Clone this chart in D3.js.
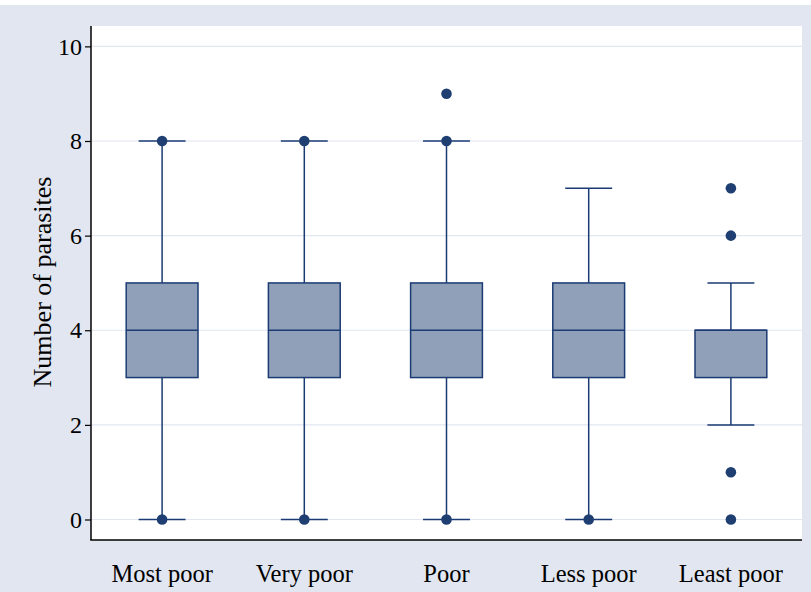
<!DOCTYPE html>
<html>
<head>
<meta charset="utf-8">
<script src="https://cdn.jsdelivr.net/npm/d3@7"></script>
<style>
  body { margin: 0; background: #fff; }
  text { font-family: "Liberation Serif", "Times New Roman", serif; }
</style>
</head>
<body>
<svg id="chart" width="811" height="592"></svg>
<script>
// Box plot data
const categories = ["Most poor", "Very poor", "Poor", "Less poor", "Least poor"];
const q1 = [3, 3, 3, 3, 3];
const medians = [4, 4, 4, 4, 4];
const q3 = [5, 5, 5, 5, 4];
const whiskerLow = [0, 0, 0, 0, 2];
const whiskerHigh = [8, 8, 8, 7, 5];
const outliers = [[0, 8], [0, 8], [0, 8, 9], [0], [0, 1, 6, 7]];
const yTicks = [0, 2, 4, 6, 8, 10];

const svg = d3.select("#chart");
const W = 811, H = 592;
const plot = {left: 91, right: 802, top: 26, bottom: 540};

//Outer background
svg.append("rect").attr("x", 0).attr("y", 5).attr("width", W).attr("height", H - 5)
    .attr("fill", "#e1e6f0");
//Plot region
svg.append("rect").attr("x", plot.left).attr("y", plot.top)
    .attr("width", plot.right - plot.left).attr("height", plot.bottom - plot.top)
    .attr("fill", "#fff");

const x = d3.scaleBand().domain(categories).range([plot.left, plot.right]).padding(0);
const y = d3.scaleLinear().domain([0, 8]).range([519.5, 141]);

//Grid lines
svg.append("g").selectAll("line").data(yTicks).join("line")
    .attr("x1", plot.left).attr("x2", plot.right)
    .attr("y1", d => y(d)).attr("y2", d => y(d))
    .attr("stroke", "#e1e6f0").attr("stroke-width", 1.2);

const boxes = categories.map((c, i) => ({
  cat: c, q1: q1[i], med: medians[i], q3: q3[i],
  lo: whiskerLow[i], hi: whiskerHigh[i], out: outliers[i]
}));

const boxW = x.bandwidth() * 0.505;
const capW = x.bandwidth() * 0.33;
const stroke = "#1a3b73";

const g = svg.append("g").selectAll("g").data(boxes).join("g")
    .attr("transform", d => `translate(${x(d.cat) + x.bandwidth() / 2},0)`);

//Whiskers
g.append("line").attr("x1", 0).attr("x2", 0)
    .attr("y1", d => y(d.q3)).attr("y2", d => y(d.hi))
    .attr("stroke", stroke).attr("stroke-width", 1.5);
g.append("line").attr("x1", 0).attr("x2", 0)
    .attr("y1", d => y(d.q1)).attr("y2", d => y(d.lo))
    .attr("stroke", stroke).attr("stroke-width", 1.5);
//Caps
g.append("line").attr("x1", -capW / 2).attr("x2", capW / 2)
    .attr("y1", d => y(d.hi)).attr("y2", d => y(d.hi))
    .attr("stroke", stroke).attr("stroke-width", 1.5);
g.append("line").attr("x1", -capW / 2).attr("x2", capW / 2)
    .attr("y1", d => y(d.lo)).attr("y2", d => y(d.lo))
    .attr("stroke", stroke).attr("stroke-width", 1.5);
//Box
g.append("rect").attr("x", -boxW / 2).attr("width", boxW)
    .attr("y", d => y(d.q3)).attr("height", d => y(d.q1) - y(d.q3))
    .attr("fill", "#90a0b8").attr("stroke", stroke).attr("stroke-width", 1.5);
//Median
g.append("line").attr("x1", -boxW / 2).attr("x2", boxW / 2)
    .attr("y1", d => y(d.med)).attr("y2", d => y(d.med))
    .attr("stroke", stroke).attr("stroke-width", 1.5);
//Outliers
g.selectAll("circle").data(d => d.out).join("circle")
    .attr("cx", 0).attr("cy", v => y(v)).attr("r", 5.3)
    .attr("fill", "#1f3f73");

//Y axis
const yAxis = svg.append("g").attr("transform", `translate(${plot.left},0)`)
    .call(d3.axisLeft(y).tickValues(yTicks).tickSize(6).tickPadding(3));
yAxis.select(".domain").remove();
yAxis.selectAll(".tick line").attr("stroke", "#000").attr("stroke-width", 1.2);
yAxis.selectAll(".tick text").attr("font-size", 24).attr("fill", "#000")
    .attr("font-family", "Liberation Serif");
svg.append("line").attr("x1", plot.left).attr("x2", plot.left)
    .attr("y1", plot.top).attr("y2", plot.bottom)
    .attr("stroke", "#000").attr("stroke-width", 1.5);

//X axis
svg.append("line").attr("x1", plot.left - 0.75).attr("x2", plot.right)
    .attr("y1", plot.bottom).attr("y2", plot.bottom)
    .attr("stroke", "#000").attr("stroke-width", 1.5);
svg.append("g").selectAll("text").data(categories).join("text")
    .attr("x", d => x(d) + x.bandwidth() / 2).attr("y", 582)
    .attr("text-anchor", "middle").attr("font-size", 24.5).attr("fill", "#000")
    .text(d => d);

//Y axis title
svg.append("text").attr("transform", "translate(51,282) rotate(-90)")
    .attr("text-anchor", "middle").attr("font-size", 26).attr("fill", "#000")
    .text("Number of parasites");
</script>
</body>
</html>
